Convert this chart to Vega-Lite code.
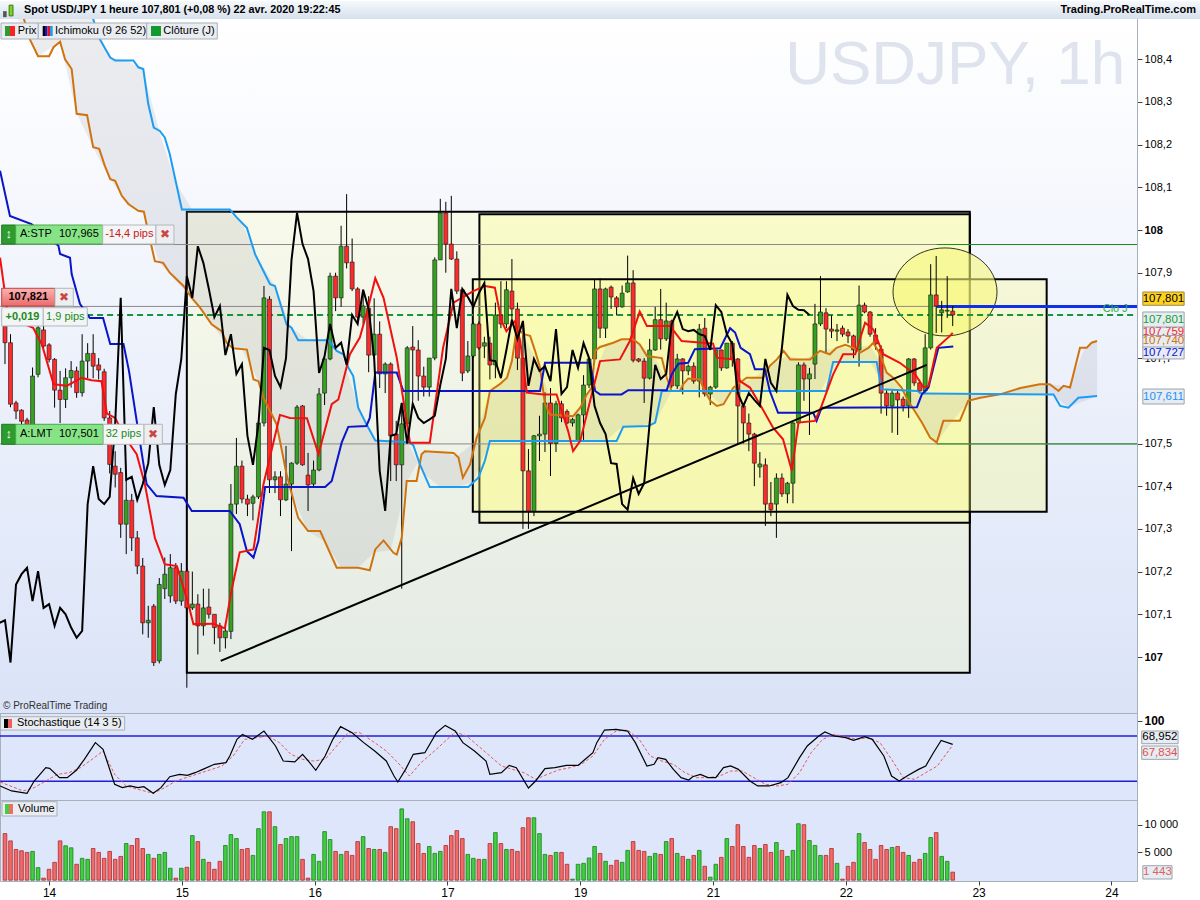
{
"$schema": "https://vega.github.io/schema/vega-lite/v6.json",
"padding": {"left": -3, "top": 0, "right": 0, "bottom": 0},
"background": "#ffffff",
"spacing": 0,
"bounds": "flush",
"config": {"font": "Liberation Sans", "view": {"stroke": "#a8b0bc"}},
"datasets": {
"candles": [
{"k":0,"o":107.775,"h":107.79,"l":107.686,"c":107.736,"v":8390},
{"k":1,"o":107.736,"h":107.756,"l":107.585,"c":107.592,"v":7080},
{"k":2,"o":107.595,"h":107.6,"l":107.557,"c":107.576,"v":5530},
{"k":3,"o":107.578,"h":107.58,"l":107.54,"c":107.552,"v":5300},
{"k":4,"o":107.555,"h":107.56,"l":107.51,"c":107.53,"v":5000},
{"k":5,"o":107.53,"h":107.678,"l":107.52,"c":107.658,"v":5180},
{"k":6,"o":107.662,"h":107.79,"l":107.655,"c":107.771,"v":2260},
{"k":7,"o":107.766,"h":107.78,"l":107.72,"c":107.728,"v":360},
{"k":8,"o":107.731,"h":107.735,"l":107.69,"c":107.697,"v":1960},
{"k":9,"o":107.697,"h":107.7,"l":107.584,"c":107.625,"v":3210},
{"k":10,"o":107.625,"h":107.67,"l":107.548,"c":107.603,"v":7080},
{"k":11,"o":107.603,"h":107.676,"l":107.583,"c":107.654,"v":6190},
{"k":12,"o":107.654,"h":107.693,"l":107.631,"c":107.671,"v":5830},
{"k":13,"o":107.67,"h":107.68,"l":107.607,"c":107.619,"v":2860},
{"k":14,"o":107.619,"h":107.756,"l":107.61,"c":107.693,"v":3930},
{"k":15,"o":107.693,"h":107.735,"l":107.653,"c":107.711,"v":3750},
{"k":16,"o":107.711,"h":107.756,"l":107.653,"c":107.681,"v":5710},
{"k":17,"o":107.684,"h":107.7,"l":107.65,"c":107.672,"v":5000},
{"k":18,"o":107.668,"h":107.675,"l":107.553,"c":107.56,"v":3930},
{"k":19,"o":107.56,"h":107.576,"l":107.43,"c":107.451,"v":5180},
{"k":20,"o":107.447,"h":107.482,"l":107.397,"c":107.428,"v":3750},
{"k":21,"o":107.432,"h":107.443,"l":107.279,"c":107.311,"v":4280},
{"k":22,"o":107.311,"h":107.42,"l":107.241,"c":107.367,"v":6600},
{"k":23,"o":107.367,"h":107.382,"l":107.248,"c":107.279,"v":6250},
{"k":24,"o":107.279,"h":107.295,"l":107.194,"c":107.213,"v":7500},
{"k":25,"o":107.213,"h":107.232,"l":107.053,"c":107.08,"v":5710},
{"k":26,"o":107.08,"h":107.12,"l":107.045,"c":107.086,"v":4640},
{"k":27,"o":107.119,"h":107.124,"l":106.979,"c":106.987,"v":3930},
{"k":28,"o":106.991,"h":107.185,"l":106.985,"c":107.17,"v":4640},
{"k":29,"o":107.16,"h":107.233,"l":107.136,"c":107.194,"v":5000},
{"k":30,"o":107.143,"h":107.241,"l":107.127,"c":107.209,"v":2140},
{"k":31,"o":107.209,"h":107.22,"l":107.124,"c":107.131,"v":360},
{"k":32,"o":107.131,"h":107.22,"l":107.12,"c":107.201,"v":2140},
{"k":33,"o":107.201,"h":107.208,"l":106.928,"c":107.115,"v":2320},
{"k":34,"o":107.115,"h":107.2,"l":107.11,"c":107.124,"v":8030},
{"k":35,"o":107.124,"h":107.147,"l":107.006,"c":107.073,"v":6960},
{"k":36,"o":107.073,"h":107.16,"l":107.05,"c":107.115,"v":3750},
{"k":37,"o":107.117,"h":107.16,"l":107.09,"c":107.1,"v":3210},
{"k":38,"o":107.1,"h":107.1,"l":107.03,"c":107.069,"v":1960},
{"k":39,"o":107.073,"h":107.08,"l":107.012,"c":107.045,"v":3390},
{"k":40,"o":107.045,"h":107.08,"l":107.02,"c":107.061,"v":6250},
{"k":41,"o":107.06,"h":107.405,"l":107.042,"c":107.358,"v":8210},
{"k":42,"o":107.358,"h":107.513,"l":107.335,"c":107.447,"v":7500},
{"k":43,"o":107.447,"h":107.46,"l":107.36,"c":107.37,"v":5530},
{"k":44,"o":107.37,"h":107.38,"l":107.33,"c":107.358,"v":5710},
{"k":45,"o":107.36,"h":107.38,"l":107.32,"c":107.375,"v":4460},
{"k":46,"o":107.375,"h":107.55,"l":107.37,"c":107.548,"v":9280},
{"k":47,"o":107.548,"h":107.869,"l":107.54,"c":107.841,"v":12320},
{"k":48,"o":107.838,"h":107.845,"l":107.384,"c":107.415,"v":12320},
{"k":49,"o":107.415,"h":107.435,"l":107.384,"c":107.422,"v":9640},
{"k":50,"o":107.422,"h":107.435,"l":107.33,"c":107.368,"v":6430},
{"k":51,"o":107.368,"h":107.494,"l":107.365,"c":107.405,"v":7500},
{"k":52,"o":107.405,"h":107.456,"l":107.248,"c":107.454,"v":7850},
{"k":53,"o":107.454,"h":107.59,"l":107.45,"c":107.585,"v":7850},
{"k":54,"o":107.588,"h":107.59,"l":107.448,"c":107.45,"v":3750},
{"k":55,"o":107.426,"h":107.478,"l":107.342,"c":107.403,"v":360},
{"k":56,"o":107.405,"h":107.46,"l":107.4,"c":107.438,"v":4640},
{"k":57,"o":107.438,"h":107.63,"l":107.435,"c":107.616,"v":3390},
{"k":58,"o":107.618,"h":107.712,"l":107.59,"c":107.698,"v":8750},
{"k":59,"o":107.698,"h":107.9,"l":107.695,"c":107.892,"v":7320},
{"k":60,"o":107.892,"h":107.9,"l":107.81,"c":107.841,"v":5180},
{"k":61,"o":107.841,"h":108.01,"l":107.82,"c":107.962,"v":4640},
{"k":62,"o":107.962,"h":108.084,"l":107.91,"c":107.923,"v":5180},
{"k":63,"o":107.925,"h":107.98,"l":107.857,"c":107.862,"v":4460},
{"k":64,"o":107.862,"h":107.866,"l":107.78,"c":107.796,"v":6960},
{"k":65,"o":107.796,"h":107.86,"l":107.78,"c":107.822,"v":7850},
{"k":66,"o":107.817,"h":107.845,"l":107.667,"c":107.707,"v":5710},
{"k":67,"o":107.707,"h":107.84,"l":107.7,"c":107.756,"v":5530},
{"k":68,"o":107.756,"h":107.786,"l":107.63,"c":107.663,"v":5530},
{"k":69,"o":107.663,"h":107.69,"l":107.618,"c":107.686,"v":5000},
{"k":70,"o":107.686,"h":107.69,"l":107.412,"c":107.518,"v":9640},
{"k":71,"o":107.522,"h":107.553,"l":107.412,"c":107.45,"v":9280},
{"k":72,"o":107.45,"h":107.595,"l":107.16,"c":107.546,"v":12850},
{"k":73,"o":107.546,"h":107.728,"l":107.54,"c":107.724,"v":11070},
{"k":74,"o":107.726,"h":107.775,"l":107.6,"c":107.719,"v":10530},
{"k":75,"o":107.719,"h":107.742,"l":107.6,"c":107.658,"v":6600},
{"k":76,"o":107.658,"h":107.68,"l":107.61,"c":107.632,"v":4820},
{"k":77,"o":107.632,"h":107.7,"l":107.61,"c":107.7,"v":6070},
{"k":78,"o":107.7,"h":107.936,"l":107.695,"c":107.93,"v":4820},
{"k":79,"o":107.93,"h":108.073,"l":107.93,"c":108.04,"v":5180},
{"k":80,"o":108.04,"h":108.066,"l":107.9,"c":107.967,"v":6250},
{"k":81,"o":107.967,"h":108.08,"l":107.93,"c":107.932,"v":8030},
{"k":82,"o":107.932,"h":107.95,"l":107.85,"c":107.857,"v":8930},
{"k":83,"o":107.86,"h":107.86,"l":107.646,"c":107.665,"v":7500},
{"k":84,"o":107.67,"h":107.74,"l":107.665,"c":107.705,"v":4640},
{"k":85,"o":107.705,"h":107.784,"l":107.7,"c":107.78,"v":3930},
{"k":86,"o":107.78,"h":107.786,"l":107.72,"c":107.724,"v":3750},
{"k":87,"o":107.728,"h":107.75,"l":107.7,"c":107.736,"v":3750},
{"k":88,"o":107.735,"h":107.75,"l":107.65,"c":107.684,"v":6600},
{"k":89,"o":107.684,"h":107.83,"l":107.653,"c":107.801,"v":8570},
{"k":90,"o":107.8,"h":107.88,"l":107.77,"c":107.78,"v":6600},
{"k":91,"o":107.78,"h":107.88,"l":107.77,"c":107.86,"v":5530},
{"k":92,"o":107.857,"h":107.932,"l":107.787,"c":107.815,"v":5530},
{"k":93,"o":107.815,"h":107.83,"l":107.672,"c":107.7,"v":5180},
{"k":94,"o":107.7,"h":107.787,"l":107.3,"c":107.436,"v":9460},
{"k":95,"o":107.436,"h":107.487,"l":107.3,"c":107.342,"v":11250},
{"k":96,"o":107.342,"h":107.52,"l":107.33,"c":107.518,"v":11250},
{"k":97,"o":107.518,"h":107.565,"l":107.459,"c":107.522,"v":8390},
{"k":98,"o":107.522,"h":107.62,"l":107.48,"c":107.595,"v":4640},
{"k":99,"o":107.595,"h":107.63,"l":107.424,"c":107.5,"v":4460},
{"k":100,"o":107.5,"h":107.6,"l":107.48,"c":107.593,"v":5000},
{"k":101,"o":107.593,"h":107.6,"l":107.55,"c":107.56,"v":5000},
{"k":102,"o":107.575,"h":107.58,"l":107.545,"c":107.548,"v":2860},
{"k":103,"o":107.548,"h":107.56,"l":107.54,"c":107.556,"v":180},
{"k":104,"o":107.506,"h":107.57,"l":107.505,"c":107.567,"v":2860},
{"k":105,"o":107.567,"h":107.66,"l":107.506,"c":107.637,"v":3030},
{"k":106,"o":107.637,"h":107.7,"l":107.63,"c":107.698,"v":4000},
{"k":107,"o":107.698,"h":107.885,"l":107.69,"c":107.862,"v":6070},
{"k":108,"o":107.862,"h":107.887,"l":107.747,"c":107.77,"v":4820},
{"k":109,"o":107.77,"h":107.865,"l":107.747,"c":107.862,"v":3390},
{"k":110,"o":107.866,"h":107.87,"l":107.815,"c":107.843,"v":2680},
{"k":111,"o":107.841,"h":107.845,"l":107.8,"c":107.82,"v":3570},
{"k":112,"o":107.82,"h":107.87,"l":107.818,"c":107.852,"v":3210},
{"k":113,"o":107.855,"h":107.94,"l":107.853,"c":107.876,"v":5360},
{"k":114,"o":107.876,"h":107.906,"l":107.69,"c":107.695,"v":6960},
{"k":115,"o":107.698,"h":107.7,"l":107.69,"c":107.693,"v":5360},
{"k":116,"o":107.693,"h":107.7,"l":107.595,"c":107.653,"v":5180},
{"k":117,"o":107.653,"h":107.745,"l":107.65,"c":107.719,"v":4280},
{"k":118,"o":107.719,"h":107.82,"l":107.717,"c":107.79,"v":4820},
{"k":119,"o":107.79,"h":107.862,"l":107.72,"c":107.745,"v":4640},
{"k":120,"o":107.745,"h":107.83,"l":107.74,"c":107.787,"v":6960},
{"k":121,"o":107.787,"h":107.79,"l":107.63,"c":107.635,"v":7500},
{"k":122,"o":107.635,"h":107.71,"l":107.628,"c":107.698,"v":4820},
{"k":123,"o":107.698,"h":107.7,"l":107.615,"c":107.67,"v":4280},
{"k":124,"o":107.67,"h":107.685,"l":107.66,"c":107.681,"v":3750},
{"k":125,"o":107.681,"h":107.69,"l":107.64,"c":107.646,"v":4460},
{"k":126,"o":107.646,"h":107.78,"l":107.608,"c":107.768,"v":5360},
{"k":127,"o":107.77,"h":107.794,"l":107.61,"c":107.616,"v":2500},
{"k":128,"o":107.616,"h":107.635,"l":107.59,"c":107.632,"v":540},
{"k":129,"o":107.632,"h":107.72,"l":107.628,"c":107.719,"v":2860},
{"k":130,"o":107.719,"h":107.72,"l":107.67,"c":107.677,"v":4110},
{"k":131,"o":107.677,"h":107.735,"l":107.675,"c":107.735,"v":7500},
{"k":132,"o":107.735,"h":107.74,"l":107.68,"c":107.7,"v":6070},
{"k":133,"o":107.698,"h":107.7,"l":107.5,"c":107.588,"v":10000},
{"k":134,"o":107.588,"h":107.595,"l":107.5,"c":107.548,"v":6070},
{"k":135,"o":107.548,"h":107.57,"l":107.482,"c":107.522,"v":4110},
{"k":136,"o":107.522,"h":107.525,"l":107.4,"c":107.454,"v":6250},
{"k":137,"o":107.445,"h":107.48,"l":107.42,"c":107.452,"v":5710},
{"k":138,"o":107.45,"h":107.465,"l":107.307,"c":107.358,"v":6430},
{"k":139,"o":107.36,"h":107.41,"l":107.33,"c":107.345,"v":5000},
{"k":140,"o":107.358,"h":107.43,"l":107.279,"c":107.419,"v":6780},
{"k":141,"o":107.419,"h":107.43,"l":107.375,"c":107.382,"v":5360},
{"k":142,"o":107.382,"h":107.41,"l":107.36,"c":107.407,"v":4280},
{"k":143,"o":107.407,"h":107.55,"l":107.36,"c":107.548,"v":5360},
{"k":144,"o":107.548,"h":107.69,"l":107.545,"c":107.684,"v":10170},
{"k":145,"o":107.684,"h":107.69,"l":107.6,"c":107.651,"v":10000},
{"k":146,"o":107.651,"h":107.677,"l":107.52,"c":107.663,"v":7140},
{"k":147,"o":107.686,"h":107.827,"l":107.651,"c":107.78,"v":6250},
{"k":148,"o":107.78,"h":107.892,"l":107.775,"c":107.808,"v":4460},
{"k":149,"o":107.806,"h":107.817,"l":107.71,"c":107.768,"v":4460},
{"k":150,"o":107.768,"h":107.8,"l":107.747,"c":107.763,"v":5710},
{"k":151,"o":107.763,"h":107.78,"l":107.74,"c":107.766,"v":3030},
{"k":152,"o":107.77,"h":107.776,"l":107.75,"c":107.756,"v":180},
{"k":153,"o":107.761,"h":107.768,"l":107.735,"c":107.752,"v":2500},
{"k":154,"o":107.752,"h":107.755,"l":107.7,"c":107.719,"v":3210},
{"k":155,"o":107.719,"h":107.87,"l":107.68,"c":107.824,"v":8390},
{"k":156,"o":107.824,"h":107.83,"l":107.805,"c":107.808,"v":6780},
{"k":157,"o":107.808,"h":107.81,"l":107.75,"c":107.756,"v":5530},
{"k":158,"o":107.754,"h":107.77,"l":107.72,"c":107.733,"v":3750},
{"k":159,"o":107.721,"h":107.73,"l":107.57,"c":107.618,"v":6250},
{"k":160,"o":107.618,"h":107.625,"l":107.565,"c":107.588,"v":5530},
{"k":161,"o":107.588,"h":107.625,"l":107.525,"c":107.618,"v":5890},
{"k":162,"o":107.618,"h":107.625,"l":107.52,"c":107.602,"v":6070},
{"k":163,"o":107.604,"h":107.61,"l":107.575,"c":107.588,"v":5000},
{"k":164,"o":107.588,"h":107.7,"l":107.56,"c":107.698,"v":4460},
{"k":165,"o":107.698,"h":107.7,"l":107.635,"c":107.642,"v":3210},
{"k":166,"o":107.642,"h":107.65,"l":107.617,"c":107.623,"v":3750},
{"k":167,"o":107.623,"h":107.756,"l":107.617,"c":107.724,"v":4820},
{"k":168,"o":107.724,"h":107.92,"l":107.72,"c":107.848,"v":7680},
{"k":169,"o":107.848,"h":107.939,"l":107.759,"c":107.822,"v":8570},
{"k":170,"o":107.806,"h":107.834,"l":107.76,"c":107.813,"v":4280},
{"k":171,"o":107.81,"h":107.892,"l":107.794,"c":107.812,"v":3390},
{"k":172,"o":107.81,"h":107.822,"l":107.775,"c":107.801,"v":1443}
],
"chikou": [
{"k":-1,"p":107.08},{"k":0,"p":107.086},{"k":1,"p":106.987},{"k":2,"p":107.17},{"k":3,"p":107.194},{"k":4,"p":107.209},{"k":5,"p":107.131},{"k":6,"p":107.201},{"k":7,"p":107.115},{"k":8,"p":107.124},{"k":9,"p":107.073},{"k":10,"p":107.115},{"k":11,"p":107.1},{"k":12,"p":107.069},{"k":13,"p":107.045},{"k":14,"p":107.061},{"k":15,"p":107.358},{"k":16,"p":107.447},{"k":17,"p":107.37},{"k":18,"p":107.358},{"k":19,"p":107.375},{"k":20,"p":107.548},{"k":21,"p":107.841},{"k":22,"p":107.415},{"k":23,"p":107.422},{"k":24,"p":107.368},{"k":25,"p":107.405},{"k":26,"p":107.454},{"k":27,"p":107.585},{"k":28,"p":107.45},{"k":29,"p":107.403},{"k":30,"p":107.438},{"k":31,"p":107.616},{"k":32,"p":107.698},{"k":33,"p":107.892},{"k":34,"p":107.841},{"k":35,"p":107.962},{"k":36,"p":107.923},{"k":37,"p":107.862},{"k":38,"p":107.796},{"k":39,"p":107.822},{"k":40,"p":107.707},{"k":41,"p":107.756},{"k":42,"p":107.663},{"k":43,"p":107.686},{"k":44,"p":107.518},{"k":45,"p":107.45},{"k":46,"p":107.546},{"k":47,"p":107.724},{"k":48,"p":107.719},{"k":49,"p":107.658},{"k":50,"p":107.632},{"k":51,"p":107.7},{"k":52,"p":107.93},{"k":53,"p":108.04},{"k":54,"p":107.967},{"k":55,"p":107.932},{"k":56,"p":107.857},{"k":57,"p":107.665},{"k":58,"p":107.705},{"k":59,"p":107.78},{"k":60,"p":107.724},{"k":61,"p":107.736},{"k":62,"p":107.684},{"k":63,"p":107.801},{"k":64,"p":107.78},{"k":65,"p":107.86},{"k":66,"p":107.815},{"k":67,"p":107.7},{"k":68,"p":107.436},{"k":69,"p":107.342},{"k":70,"p":107.518},{"k":71,"p":107.522},{"k":72,"p":107.595},{"k":73,"p":107.5},{"k":74,"p":107.593},{"k":75,"p":107.56},{"k":76,"p":107.548},{"k":77,"p":107.556},{"k":78,"p":107.565},{"k":79,"p":107.637},{"k":80,"p":107.698},{"k":81,"p":107.862},{"k":82,"p":107.77},{"k":83,"p":107.862},{"k":84,"p":107.843},{"k":85,"p":107.82},{"k":86,"p":107.852},{"k":87,"p":107.876},{"k":88,"p":107.695},{"k":89,"p":107.693},{"k":90,"p":107.653},{"k":91,"p":107.719},{"k":92,"p":107.79},{"k":93,"p":107.745},{"k":94,"p":107.787},{"k":95,"p":107.635},{"k":96,"p":107.698},{"k":97,"p":107.67},{"k":98,"p":107.681},{"k":99,"p":107.646},{"k":100,"p":107.768},{"k":101,"p":107.616},{"k":102,"p":107.632},{"k":103,"p":107.719},{"k":104,"p":107.677},{"k":105,"p":107.735},{"k":106,"p":107.7},{"k":107,"p":107.588},{"k":108,"p":107.548},{"k":109,"p":107.522},{"k":110,"p":107.454},{"k":111,"p":107.452},{"k":112,"p":107.358},{"k":113,"p":107.345},{"k":114,"p":107.419},{"k":115,"p":107.382},{"k":116,"p":107.407},{"k":117,"p":107.548},{"k":118,"p":107.684},{"k":119,"p":107.651},{"k":120,"p":107.663},{"k":121,"p":107.78},{"k":122,"p":107.808},{"k":123,"p":107.768},{"k":124,"p":107.763},{"k":125,"p":107.766},{"k":126,"p":107.756},{"k":127,"p":107.752},{"k":128,"p":107.719},{"k":129,"p":107.824},{"k":130,"p":107.808},{"k":131,"p":107.756},{"k":132,"p":107.733},{"k":133,"p":107.618},{"k":134,"p":107.588},{"k":135,"p":107.618},{"k":136,"p":107.602},{"k":137,"p":107.588},{"k":138,"p":107.698},{"k":139,"p":107.642},{"k":140,"p":107.623},{"k":141,"p":107.724},{"k":142,"p":107.848},{"k":143,"p":107.822},{"k":144,"p":107.813},{"k":145,"p":107.812},{"k":146,"p":107.801}
],
"tenkan": [
{"k":-0.9,"p":107.935},{"k":0.6,"p":107.795},{"k":5.1,"p":107.771},{"k":6.7,"p":107.732},{"k":8.8,"p":107.639},{"k":11.2,"p":107.635},{"k":13.9,"p":107.654},{"k":15.7,"p":107.648},{"k":17.5,"p":107.646},{"k":18.5,"p":107.57},{"k":20,"p":107.56},{"k":21.8,"p":107.514},{"k":23.9,"p":107.475},{"k":25.4,"p":107.404},{"k":27.2,"p":107.279},{"k":29,"p":107.217},{"k":31.2,"p":107.213},{"k":33.3,"p":107.123},{"k":34.2,"p":107.077},{"k":37.8,"p":107.078},{"k":39.9,"p":107.067},{"k":41.1,"p":107.155},{"k":42.6,"p":107.245},{"k":45.1,"p":107.252},{"k":46.9,"p":107.404},{"k":49.9,"p":107.567},{"k":51.7,"p":107.56},{"k":54.8,"p":107.559},{"k":56.9,"p":107.475},{"k":59.3,"p":107.592},{"k":60.5,"p":107.603},{"k":62.6,"p":107.709},{"k":64.4,"p":107.748},{"k":65.9,"p":107.818},{"k":67.2,"p":107.887},{"k":68.7,"p":107.841},{"k":71.1,"p":107.701},{"k":73.5,"p":107.502},{"k":77.1,"p":107.502},{"k":79.5,"p":107.724},{"k":81.4,"p":107.83},{"k":85,"p":107.857},{"k":87.1,"p":107.869},{"k":88.9,"p":107.865},{"k":90.1,"p":107.787},{"k":91,"p":107.763},{"k":92.6,"p":107.787},{"k":93.5,"p":107.74},{"k":94.7,"p":107.619},{"k":97.7,"p":107.615},{"k":100.1,"p":107.615},{"k":102.2,"p":107.529},{"k":103.1,"p":107.482},{"k":104.4,"p":107.506},{"k":106.2,"p":107.6},{"k":108,"p":107.693},{"k":111.6,"p":107.697},{"k":113.4,"p":107.74},{"k":115.2,"p":107.809},{"k":116.5,"p":107.775},{"k":120.7,"p":107.775},{"k":122.8,"p":107.74},{"k":128.5,"p":107.734},{"k":129.2,"p":107.701},{"k":132.2,"p":107.697},{"k":133.4,"p":107.646},{"k":135.2,"p":107.631},{"k":137,"p":107.592},{"k":139.4,"p":107.537},{"k":141.2,"p":107.51},{"k":142.8,"p":107.436},{"k":144,"p":107.549},{"k":147,"p":107.553},{"k":148.2,"p":107.588},{"k":150.3,"p":107.662},{"k":152.1,"p":107.709},{"k":154.3,"p":107.709},{"k":156.1,"p":107.783},{"k":157.6,"p":107.767},{"k":159.4,"p":107.709},{"k":162.4,"p":107.689},{"k":165.2,"p":107.662},{"k":166.7,"p":107.631},{"k":167.6,"p":107.635},{"k":169.1,"p":107.724},{"k":171.5,"p":107.752},{"k":172,"p":107.759}
],
"kijun": [
{"k":-0.9,"p":108.139},{"k":0.9,"p":108.033},{"k":4.8,"p":108.014},{"k":9.7,"p":107.963},{"k":10,"p":107.944},{"k":11.8,"p":107.935},{"k":12.1,"p":107.897},{"k":13.6,"p":107.827},{"k":15.4,"p":107.794},{"k":17.8,"p":107.794},{"k":19.1,"p":107.733},{"k":21.5,"p":107.733},{"k":22.5,"p":107.67},{"k":23.9,"p":107.553},{"k":25.7,"p":107.405},{"k":27.5,"p":107.377},{"k":32.4,"p":107.373},{"k":33.9,"p":107.342},{"k":40.8,"p":107.342},{"k":42.6,"p":107.311},{"k":43.9,"p":107.248},{"k":45.1,"p":107.233},{"k":46,"p":107.272},{"k":47.2,"p":107.398},{"k":58.1,"p":107.398},{"k":59.3,"p":107.412},{"k":61.1,"p":107.502},{"k":62.3,"p":107.539},{"k":65.6,"p":107.541},{"k":66.2,"p":107.56},{"k":67.2,"p":107.666},{"k":71.1,"p":107.666},{"k":72.3,"p":107.623},{"k":97.1,"p":107.623},{"k":98,"p":107.689},{"k":106.2,"p":107.689},{"k":107.1,"p":107.623},{"k":108,"p":107.615},{"k":111.9,"p":107.615},{"k":113.1,"p":107.625},{"k":120.1,"p":107.625},{"k":121,"p":107.662},{"k":122.2,"p":107.687},{"k":124,"p":107.689},{"k":125.2,"p":107.721},{"k":129.8,"p":107.723},{"k":131.6,"p":107.77},{"k":132.5,"p":107.76},{"k":133.5,"p":107.724},{"k":135.2,"p":107.709},{"k":136.1,"p":107.674},{"k":137.9,"p":107.674},{"k":138.8,"p":107.623},{"k":140.3,"p":107.572},{"k":146.7,"p":107.572},{"k":147.3,"p":107.553},{"k":148.2,"p":107.584},{"k":165.5,"p":107.585},{"k":166.4,"p":107.615},{"k":167.6,"p":107.631},{"k":168.5,"p":107.678},{"k":169.4,"p":107.724},{"k":172.1,"p":107.727}
],
"spanA": [
{"k":1.5,"p":108.58},{"k":4.5,"p":108.447},{"k":6,"p":108.407},{"k":8,"p":108.407},{"k":8.8,"p":108.428},{"k":10,"p":108.441},{"k":10.9,"p":108.4},{"k":12.1,"p":108.377},{"k":13,"p":108.272},{"k":14.9,"p":108.269},{"k":16,"p":108.194},{"k":17.1,"p":108.19},{"k":18.1,"p":108.151},{"k":19.1,"p":108.119},{"k":20,"p":108.115},{"k":21.2,"p":108.08},{"k":22.4,"p":108.061},{"k":24.2,"p":108.045},{"k":25.2,"p":108.043},{"k":25.7,"p":108.013},{"k":27.2,"p":107.927},{"k":28.7,"p":107.923},{"k":29.9,"p":107.9},{"k":32.4,"p":107.869},{"k":33.9,"p":107.841},{"k":35.4,"p":107.818},{"k":37.5,"p":107.779},{"k":39.3,"p":107.763},{"k":40.2,"p":107.736},{"k":41.4,"p":107.723},{"k":43.9,"p":107.72},{"k":45.1,"p":107.65},{"k":46,"p":107.646},{"k":46.9,"p":107.607},{"k":49.3,"p":107.545},{"k":51.1,"p":107.428},{"k":53.2,"p":107.326},{"k":55,"p":107.295},{"k":57.2,"p":107.295},{"k":60.2,"p":107.209},{"k":64.1,"p":107.209},{"k":66.2,"p":107.203},{"k":67.2,"p":107.252},{"k":68.7,"p":107.273},{"k":70.5,"p":107.244},{"k":71.1,"p":107.24},{"k":72,"p":107.279},{"k":72.9,"p":107.412},{"k":74.7,"p":107.412},{"k":75.6,"p":107.475},{"k":76.2,"p":107.482},{"k":81.4,"p":107.478},{"k":82.3,"p":107.467},{"k":83.1,"p":107.42},{"k":84.4,"p":107.451},{"k":85.6,"p":107.514},{"k":87.1,"p":107.56},{"k":88,"p":107.623},{"k":89.8,"p":107.639},{"k":91.1,"p":107.654},{"k":92,"p":107.693},{"k":92.9,"p":107.771},{"k":94.1,"p":107.756},{"k":95.3,"p":107.752},{"k":96.2,"p":107.717},{"k":97.1,"p":107.678},{"k":98,"p":107.592},{"k":98.9,"p":107.568},{"k":103.1,"p":107.564},{"k":104.4,"p":107.584},{"k":105.6,"p":107.615},{"k":106.5,"p":107.631},{"k":107.1,"p":107.717},{"k":108,"p":107.726},{"k":110.4,"p":107.736},{"k":111.9,"p":107.744},{"k":114,"p":107.744},{"k":115.2,"p":107.732},{"k":116.5,"p":107.705},{"k":119.2,"p":107.7},{"k":120.1,"p":107.654},{"k":121,"p":107.623},{"k":122.5,"p":107.623},{"k":123.1,"p":107.639},{"k":124,"p":107.652},{"k":126.1,"p":107.65},{"k":126.7,"p":107.631},{"k":128,"p":107.6},{"k":129.2,"p":107.588},{"k":130.4,"p":107.592},{"k":132.2,"p":107.631},{"k":134.6,"p":107.654},{"k":137.6,"p":107.654},{"k":138.8,"p":107.682},{"k":140.1,"p":107.697},{"k":141.3,"p":107.717},{"k":142.5,"p":107.697},{"k":146.1,"p":107.697},{"k":147.9,"p":107.717},{"k":149.7,"p":107.709},{"k":150.9,"p":107.724},{"k":152.5,"p":107.731},{"k":154,"p":107.724},{"k":155.2,"p":107.713},{"k":156.7,"p":107.724},{"k":157.6,"p":107.736},{"k":158.8,"p":107.709},{"k":160,"p":107.666},{"k":161.2,"p":107.654},{"k":162.7,"p":107.631},{"k":163.9,"p":107.6},{"k":165.1,"p":107.576},{"k":166.4,"p":107.549},{"k":167.9,"p":107.514},{"k":169.1,"p":107.502},{"k":170.3,"p":107.553},{"k":173.3,"p":107.553},{"k":174.8,"p":107.6},{"k":177,"p":107.607},{"k":180.6,"p":107.615},{"k":184.3,"p":107.63},{"k":187.8,"p":107.639},{"k":189.6,"p":107.639},{"k":191.2,"p":107.623},{"k":192.1,"p":107.635},{"k":193.3,"p":107.631},{"k":195.1,"p":107.724},{"k":196.3,"p":107.724},{"k":197.2,"p":107.736},{"k":198.2,"p":107.74}
],
"spanB": [
{"k":14.5,"p":108.6},{"k":16,"p":108.494},{"k":17.2,"p":108.447},{"k":19.1,"p":108.404},{"k":20,"p":108.397},{"k":23.3,"p":108.397},{"k":24.2,"p":108.381},{"k":25.1,"p":108.377},{"k":26,"p":108.295},{"k":27,"p":108.24},{"k":28.1,"p":108.232},{"k":29,"p":108.217},{"k":29.9,"p":108.178},{"k":30.9,"p":108.119},{"k":32.1,"p":108.048},{"k":40.8,"p":108.048},{"k":42,"p":108.03},{"k":43.9,"p":108.005},{"k":45.4,"p":107.943},{"k":46.9,"p":107.904},{"k":48.1,"p":107.873},{"k":49,"p":107.869},{"k":51.1,"p":107.779},{"k":52,"p":107.771},{"k":53.2,"p":107.742},{"k":58.7,"p":107.742},{"k":60.2,"p":107.717},{"k":61.4,"p":107.709},{"k":62.3,"p":107.678},{"k":63.2,"p":107.658},{"k":64.1,"p":107.584},{"k":65.6,"p":107.545},{"k":67.2,"p":107.507},{"k":73.2,"p":107.503},{"k":74.1,"p":107.496},{"k":75.3,"p":107.451},{"k":77.1,"p":107.398},{"k":84.1,"p":107.398},{"k":85.9,"p":107.42},{"k":87.1,"p":107.46},{"k":88,"p":107.506},{"k":111,"p":107.506},{"k":112.2,"p":107.539},{"k":116.8,"p":107.541},{"k":118,"p":107.549},{"k":119.2,"p":107.623},{"k":149.1,"p":107.623},{"k":150.3,"p":107.691},{"k":158.2,"p":107.691},{"k":159.1,"p":107.627},{"k":165.5,"p":107.623},{"k":166.4,"p":107.617},{"k":190.3,"p":107.615},{"k":191.5,"p":107.588},{"k":193,"p":107.584},{"k":194.8,"p":107.607},{"k":198.2,"p":107.611}
],
"cloud": [
{"k":-1,"a":108.56,"b":108.75},{"k":3,"a":108.48,"b":108.7},{"k":6,"a":108.407,"b":108.65},{"k":10,"a":108.441,"b":108.6},{"k":13,"a":108.272,"b":108.56},{"k":16,"a":108.194,"b":108.494},{"k":19,"a":108.12,"b":108.405},{"k":22,"a":108.067,"b":108.397},{"k":25,"a":108.043,"b":108.377},{"k":28,"a":107.924,"b":108.232},{"k":31,"a":107.88,"b":108.11},{"k":34,"a":107.84,"b":108.048},{"k":37,"a":107.788,"b":108.048},{"k":40,"a":107.736,"b":108.048},{"k":43,"a":107.72,"b":108.016},{"k":46,"a":107.646,"b":107.93},{"k":49,"a":107.545,"b":107.869},{"k":52,"a":107.38,"b":107.771},{"k":55,"a":107.295,"b":107.742},{"k":58,"a":107.27,"b":107.742},{"k":61,"a":107.209,"b":107.712},{"k":64,"a":107.209,"b":107.59},{"k":67,"a":107.245,"b":107.508},{"k":70,"a":107.25,"b":107.504},{"k":73,"a":107.412,"b":107.503},{"k":76,"a":107.48,"b":107.43},{"k":79,"a":107.48,"b":107.398},{"k":82,"a":107.47,"b":107.398},{"k":85,"a":107.5,"b":107.41},{"k":88,"a":107.623,"b":107.506},{"k":91,"a":107.652,"b":107.506},{"k":94,"a":107.757,"b":107.506},{"k":97,"a":107.68,"b":107.506},{"k":100,"a":107.566,"b":107.506},{"k":103,"a":107.564,"b":107.506},{"k":106,"a":107.62,"b":107.506},{"k":109,"a":107.73,"b":107.506},{"k":112,"a":107.744,"b":107.54},{"k":115,"a":107.734,"b":107.541},{"k":118,"a":107.7,"b":107.549},{"k":121,"a":107.623,"b":107.623},{"k":124,"a":107.652,"b":107.623},{"k":127,"a":107.625,"b":107.623},{"k":130,"a":107.59,"b":107.623},{"k":133,"a":107.64,"b":107.623},{"k":136,"a":107.654,"b":107.623},{"k":139,"a":107.685,"b":107.623},{"k":142,"a":107.705,"b":107.623},{"k":145,"a":107.697,"b":107.623},{"k":148,"a":107.717,"b":107.623},{"k":151,"a":107.724,"b":107.691},{"k":154,"a":107.724,"b":107.691},{"k":157,"a":107.73,"b":107.691},{"k":160,"a":107.666,"b":107.625},{"k":163,"a":107.62,"b":107.623},{"k":166,"a":107.555,"b":107.617},{"k":169,"a":107.502,"b":107.615},{"k":172,"a":107.553,"b":107.615},{"k":175,"a":107.6,"b":107.615},{"k":178,"a":107.61,"b":107.615},{"k":181,"a":107.616,"b":107.615},{"k":184,"a":107.63,"b":107.615},{"k":187,"a":107.637,"b":107.615},{"k":190,"a":107.639,"b":107.615},{"k":193,"a":107.632,"b":107.585},{"k":196,"a":107.724,"b":107.6},{"k":198.2,"a":107.74,"b":107.611}
],
"stk": [
{"k":-0.9,"p":13.8},{"k":1.2,"p":7.2},{"k":4,"p":4.1},{"k":5.3,"p":20.4},{"k":7.4,"p":38.1},{"k":8.1,"p":37.2},{"k":9.9,"p":24.8},{"k":11.3,"p":24.8},{"k":13,"p":35},{"k":14.4,"p":49.1},{"k":16.4,"p":71.2},{"k":17.8,"p":62.3},{"k":19.9,"p":16},{"k":21.3,"p":11.6},{"k":22.7,"p":13.8},{"k":24.1,"p":11.6},{"k":25.2,"p":12.9},{"k":26.9,"p":4.1},{"k":28.3,"p":11.6},{"k":29.9,"p":26.1},{"k":31.7,"p":29.2},{"k":33.1,"p":27.9},{"k":34.5,"p":31.4},{"k":35.9,"p":35.8},{"k":38,"p":42.5},{"k":40.1,"p":44.7},{"k":40.8,"p":53.5},{"k":42.1,"p":75.6},{"k":43.1,"p":82.2},{"k":44.9,"p":75.6},{"k":47,"p":86.6},{"k":49.1,"p":66.8},{"k":50.5,"p":46.9},{"k":52.6,"p":45.6},{"k":54,"p":55.7},{"k":55.3,"p":44.7},{"k":56.4,"p":34.5},{"k":58.1,"p":53.5},{"k":59.5,"p":75.6},{"k":60.9,"p":92.4},{"k":63,"p":84.4},{"k":65.1,"p":71.2},{"k":67.1,"p":60.1},{"k":69.2,"p":46.9},{"k":70.6,"p":27},{"k":71.3,"p":19.1},{"k":72.7,"p":35.8},{"k":74.1,"p":55.7},{"k":76.2,"p":57.9},{"k":78.3,"p":84.4},{"k":79.9,"p":94.1},{"k":81.7,"p":86.6},{"k":83.1,"p":71.2},{"k":85.2,"p":60.1},{"k":87.3,"p":46.9},{"k":88,"p":29.2},{"k":90.1,"p":31.4},{"k":91.5,"p":41.1},{"k":92.8,"p":38.1},{"k":95,"p":11.1},{"k":96.3,"p":20.4},{"k":98,"p":36.7},{"k":99.8,"p":38.1},{"k":101.9,"p":41.1},{"k":104,"p":41.1},{"k":105.3,"p":49.1},{"k":106.7,"p":57.9},{"k":107.4,"p":71.2},{"k":108.8,"p":87.9},{"k":110.9,"p":88.8},{"k":113,"p":86.6},{"k":114.4,"p":71.2},{"k":116.5,"p":40.3},{"k":117.8,"p":42.5},{"k":118.5,"p":51.3},{"k":119.9,"p":49.1},{"k":121.3,"p":35.8},{"k":122.7,"p":24.8},{"k":124.1,"p":21.7},{"k":124.8,"p":26.1},{"k":126.2,"p":29.2},{"k":127.6,"p":24.8},{"k":129,"p":24.8},{"k":130.4,"p":38.1},{"k":131.7,"p":40.3},{"k":133.1,"p":35.8},{"k":135.2,"p":20.4},{"k":136.6,"p":13.8},{"k":138.7,"p":13.8},{"k":140.8,"p":18.2},{"k":142.1,"p":24.8},{"k":144.2,"p":51.3},{"k":145.6,"p":66.8},{"k":147.7,"p":80},{"k":148.8,"p":85.3},{"k":150.5,"p":80},{"k":152.6,"p":77.8},{"k":154,"p":74.3},{"k":156,"p":79.1},{"k":157.4,"p":75.6},{"k":159.5,"p":53.5},{"k":160.9,"p":27},{"k":162.3,"p":20.4},{"k":163.7,"p":27},{"k":165.8,"p":35.8},{"k":167.1,"p":40.3},{"k":168.5,"p":57.9},{"k":169.9,"p":74},{"k":172,"p":68.95}
],
"std": [
{"k":-0.9,"p":19.1},{"k":3.3,"p":7.2},{"k":5.3,"p":11.6},{"k":7.4,"p":20.4},{"k":9.5,"p":29.2},{"k":11.6,"p":31.4},{"k":13.7,"p":38.1},{"k":15.8,"p":49.1},{"k":17.8,"p":60.1},{"k":19.9,"p":29.2},{"k":22,"p":13.8},{"k":24.1,"p":9.4},{"k":26.9,"p":4.1},{"k":29,"p":11.6},{"k":31,"p":20.4},{"k":33.8,"p":27},{"k":36.6,"p":33.6},{"k":39.4,"p":40.3},{"k":41.4,"p":53.5},{"k":43.5,"p":75.6},{"k":45.6,"p":77.8},{"k":47.7,"p":80},{"k":49.8,"p":71.2},{"k":51.9,"p":55.7},{"k":54,"p":49.1},{"k":56,"p":46.9},{"k":58.1,"p":49.1},{"k":60.2,"p":66.8},{"k":62.3,"p":84.4},{"k":64.4,"p":84.4},{"k":67.1,"p":71.2},{"k":69.2,"p":60.1},{"k":71.3,"p":44.7},{"k":73.4,"p":27},{"k":75.5,"p":44.7},{"k":77.6,"p":57.9},{"k":79.6,"p":71.2},{"k":81.7,"p":85.3},{"k":83.8,"p":80},{"k":85.9,"p":66.8},{"k":88,"p":53.5},{"k":90.1,"p":40.3},{"k":92.1,"p":35.8},{"k":94.2,"p":31.4},{"k":96.3,"p":22.6},{"k":98.4,"p":29.2},{"k":100.5,"p":35},{"k":102.6,"p":38.1},{"k":104.6,"p":42.5},{"k":106.7,"p":53.5},{"k":108.8,"p":75.6},{"k":110.9,"p":86.6},{"k":113,"p":87.9},{"k":115.1,"p":75.6},{"k":117.1,"p":53.5},{"k":119.2,"p":46.9},{"k":121.3,"p":42.5},{"k":123.4,"p":31.4},{"k":125.5,"p":24.8},{"k":127.6,"p":24.8},{"k":129.7,"p":27},{"k":131.7,"p":33.6},{"k":133.8,"p":33.6},{"k":135.9,"p":24.8},{"k":138,"p":16},{"k":140.1,"p":13.8},{"k":142.1,"p":16},{"k":144.2,"p":31.4},{"k":146.3,"p":57.9},{"k":148.4,"p":75.6},{"k":150.5,"p":82.2},{"k":152.6,"p":79.1},{"k":154.6,"p":75.6},{"k":156.7,"p":77.8},{"k":158.8,"p":71.2},{"k":160.9,"p":49.1},{"k":163,"p":24.8},{"k":165.1,"p":22.6},{"k":167.1,"p":31.4},{"k":169.2,"p":40.3},{"k":172,"p":67.83}
]
},
"vconcat": [
{
"width": 1137, "height": 694,
"data": {"values": [{}]},
"view": {"stroke": "#a8b0bc"},
"encoding": {
  "x": {"type": "quantitative", "scale": {"domain": [-0.9074, 205.445], "nice": false, "zero": false, "padding": 0}, "axis": null},
  "y": {"type": "quantitative", "scale": {"domain": [106.86886, 108.49415], "nice": false, "zero": false, "padding": 0},
    "axis": {"orient": "right", "title": null, "grid": false,
      "values": [107, 107.1, 107.2, 107.3, 107.4, 107.5, 107.7, 107.9, 108, 108.1, 108.2, 108.3, 108.4],
      "labelExpr": "abs(datum.value - round(datum.value)) < 0.001 ? format(datum.value, 'd') : replace(format(datum.value, '.1f'), '.', ',')",
      "labelFontWeight": {"condition": {"test": "abs(datum.value - round(datum.value)) < 0.001", "value": "bold"}, "value": "normal"},
      "labelFontSize": 11, "labelColor": "#000000", "tickSize": 5, "tickColor": "#404040", "domainColor": "#a8b0bc", "labelPadding": 2}}
},
"layer": [
  {"mark": {"type": "rect", "fill": {"gradient": "linear", "x1": 0, "y1": 0, "x2": 0, "y2": 1, "stops": [{"offset": 0, "color": "#ffffff"}, {"offset": 1, "color": "#dae3f7"}]}},
   "encoding": {"x": {"datum": -0.9074}, "x2": {"datum": 205.445}, "y": {"datum": 108.49415}, "y2": {"datum": 106.86886}}},
  {"mark": {"type": "text", "text": "USDJPY, 1h", "align": "right", "baseline": "alphabetic", "fontSize": 62, "color": "#dfe3ee"},
   "encoding": {"x": {"datum": 203.3}, "y": {"datum": 108.342}}},
  {"mark": {"type": "rect", "fill": "#ffffb0", "fillOpacity": 0.25, "stroke": "#000000", "strokeWidth": 2},
   "encoding": {"x": {"datum": 33.0}, "x2": {"datum": 175.1}, "y": {"datum": 108.0427}, "y2": {"datum": 106.963}}},
  {"mark": {"type": "rect", "fill": "#ffff80", "fillOpacity": 0.3, "stroke": "#000000", "strokeWidth": 2},
   "encoding": {"x": {"datum": 86.1}, "x2": {"datum": 175.1}, "y": {"datum": 108.037}, "y2": {"datum": 107.3145}}},
  {"mark": {"type": "rect", "fill": "#ffff80", "fillOpacity": 0.3, "stroke": "#000000", "strokeWidth": 2},
   "encoding": {"x": {"datum": 84.9}, "x2": {"datum": 189.05}, "y": {"datum": 107.8845}, "y2": {"datum": 107.34}}},
  {"data": {"name": "cloud"}, "mark": {"type": "area", "color": "#8f8f9a", "opacity": 0.16, "clip": true},
   "encoding": {"x": {"field": "k", "type": "quantitative"}, "y": {"field": "a", "type": "quantitative"}, "y2": {"field": "b"}}},
  {"mark": {"type": "point", "shape": "M-1,0A1,0.846,0,1,0,1,0A1,0.846,0,1,0,-1,0Z", "size": 10816, "filled": true, "fill": "#f6f67a", "fillOpacity": 0.6, "stroke": "#000000", "strokeWidth": 0.8, "opacity": 1},
   "encoding": {"x": {"datum": 170.6}, "y": {"datum": 107.855}}},
  {"data": {"values": [{"p": 107.966}, {"p": 107.821}, {"p": 107.499}]},
   "mark": {"type": "rule", "color": "#8a8a8a", "strokeWidth": 1},
   "encoding": {"x": {"datum": -0.9074}, "x2": {"datum": 205.445}, "y": {"field": "p", "type": "quantitative"}}},
  {"data": {"values": [{"p": 107.966}, {"p": 107.499}]},
   "mark": {"type": "rule", "color": "#1e8c1e", "strokeWidth": 1},
   "encoding": {"x": {"datum": 169.1}, "x2": {"datum": 205.445}, "y": {"field": "p", "type": "quantitative"}}},
  {"mark": {"type": "rule", "color": "#16963a", "strokeWidth": 2, "strokeDash": [6, 4]},
   "encoding": {"x": {"datum": 14.9}, "x2": {"datum": 205.445}, "y": {"datum": 107.801}}},
  {"mark": {"type": "rule", "color": "#1030e6", "strokeWidth": 3},
   "encoding": {"x": {"datum": 169.1}, "x2": {"datum": 205.445}, "y": {"datum": 107.821}}},
  {"mark": {"type": "text", "text": "Clo J", "align": "center", "baseline": "middle", "fontSize": 11, "color": "#30b040"},
   "encoding": {"x": {"datum": 201.5}, "y": {"datum": 107.814}}},
  {"data": {"name": "candles"}, "mark": {"type": "rule", "color": "#000000", "strokeWidth": 1},
   "encoding": {"x": {"field": "k", "type": "quantitative"}, "y": {"field": "l", "type": "quantitative"}, "y2": {"field": "h"}}},
  {"data": {"name": "candles"}, "mark": {"type": "bar", "size": 4, "orient": "vertical", "stroke": "#151515", "strokeWidth": 0.6},
   "encoding": {"x": {"field": "k", "type": "quantitative"}, "y": {"field": "o", "type": "quantitative"}, "y2": {"field": "c"},
     "fill": {"condition": {"test": "datum.c >= datum.o", "value": "#36a020"}, "value": "#ff2a2a"}}},
  {"data": {"name": "spanA"}, "mark": {"type": "line", "color": "#d0730f", "strokeWidth": 2, "clip": true},
   "encoding": {"x": {"field": "k", "type": "quantitative"}, "y": {"field": "p", "type": "quantitative"}}},
  {"data": {"name": "spanB"}, "mark": {"type": "line", "color": "#1e9cf2", "strokeWidth": 2, "clip": true},
   "encoding": {"x": {"field": "k", "type": "quantitative"}, "y": {"field": "p", "type": "quantitative"}}},
  {"data": {"name": "kijun"}, "mark": {"type": "line", "color": "#0a14c8", "strokeWidth": 2, "clip": true},
   "encoding": {"x": {"field": "k", "type": "quantitative"}, "y": {"field": "p", "type": "quantitative"}}},
  {"data": {"name": "tenkan"}, "mark": {"type": "line", "color": "#f01010", "strokeWidth": 2, "clip": true},
   "encoding": {"x": {"field": "k", "type": "quantitative"}, "y": {"field": "p", "type": "quantitative"}}},
  {"data": {"name": "chikou"}, "mark": {"type": "line", "color": "#000000", "strokeWidth": 2, "clip": true},
   "encoding": {"x": {"field": "k", "type": "quantitative"}, "y": {"field": "p", "type": "quantitative"}}},
  {"mark": {"type": "rule", "color": "#000000", "strokeWidth": 2},
   "encoding": {"x": {"datum": 39.15}, "x2": {"datum": 167.3}, "y": {"datum": 106.991}, "y2": {"datum": 107.684}}},

  {"mark": {"type": "rect", "fill": "#2c9c2c", "stroke": "#1f7a1f"}, "encoding": {"x": {"datum": -0.6}, "x2": {"datum": 1.94}, "y": {"datum": 108.0117}, "y2": {"datum": 107.9672}}},
  {"mark": {"type": "rect", "fill": "#86e486", "stroke": "#4aa84a"}, "encoding": {"x": {"datum": 1.94}, "x2": {"datum": 17.73}, "y": {"datum": 108.0117}, "y2": {"datum": 107.9672}}},
  {"mark": {"type": "rect", "fill": "#f4f5f6", "stroke": "#b4b8bc"}, "encoding": {"x": {"datum": 17.73}, "x2": {"datum": 27.4}, "y": {"datum": 108.0117}, "y2": {"datum": 107.9672}}},
  {"mark": {"type": "rect", "fill": "#eceef0", "stroke": "#b4b8bc"}, "encoding": {"x": {"datum": 27.4}, "x2": {"datum": 30.67}, "y": {"datum": 108.0117}, "y2": {"datum": 107.9672}}},
  {"mark": {"type": "text", "text": "↕", "align": "center", "baseline": "middle", "fontSize": 13, "fontWeight": "bold", "color": "#ffffff"}, "encoding": {"x": {"datum": 0.67}, "y": {"datum": 107.9895}}},
  {"mark": {"type": "text", "text": "A:STP", "align": "left", "baseline": "middle", "fontSize": 11, "color": "#000000"}, "encoding": {"x": {"datum": 2.72}, "y": {"datum": 107.9895}}},
  {"mark": {"type": "text", "text": "107,965", "align": "left", "baseline": "middle", "fontSize": 11, "color": "#000000"}, "encoding": {"x": {"datum": 9.8}, "y": {"datum": 107.9895}}},
  {"mark": {"type": "text", "text": "-14,4 pips", "align": "center", "baseline": "middle", "fontSize": 11, "color": "#c41a1a"}, "encoding": {"x": {"datum": 22.56}, "y": {"datum": 107.9895}}},
  {"mark": {"type": "text", "text": "✖", "align": "center", "baseline": "middle", "fontSize": 12, "color": "#cc4444"}, "encoding": {"x": {"datum": 29.03}, "y": {"datum": 107.9895}}},

  {"mark": {"type": "rect", "fill": {"gradient": "linear", "x1": 0, "y1": 0, "x2": 0, "y2": 1, "stops": [{"offset": 0, "color": "#fbb4b4"}, {"offset": 1, "color": "#ec6a6a"}]}, "stroke": "#c04040"}, "encoding": {"x": {"datum": -0.6}, "x2": {"datum": 9.07}, "y": {"datum": 107.8635}, "y2": {"datum": 107.822}}},
  {"mark": {"type": "rect", "fill": "#eceef0", "stroke": "#b4b8bc"}, "encoding": {"x": {"datum": 9.07}, "x2": {"datum": 12.4}, "y": {"datum": 107.8635}, "y2": {"datum": 107.822}}},
  {"mark": {"type": "text", "text": "107,821", "align": "center", "baseline": "middle", "fontSize": 11, "fontWeight": "bold", "color": "#000000"}, "encoding": {"x": {"datum": 4.23}, "y": {"datum": 107.8426}}},
  {"mark": {"type": "text", "text": "✖", "align": "center", "baseline": "middle", "fontSize": 12, "color": "#cc4444"}, "encoding": {"x": {"datum": 10.74}, "y": {"datum": 107.8426}}},
  {"mark": {"type": "rect", "fill": "#f2f4f6", "stroke": "#b4b8bc"}, "encoding": {"x": {"datum": -0.6}, "x2": {"datum": 6.95}, "y": {"datum": 107.818}, "y2": {"datum": 107.7752}}},
  {"mark": {"type": "rect", "fill": "#f2f4f6", "stroke": "#b4b8bc"}, "encoding": {"x": {"datum": 6.95}, "x2": {"datum": 14.94}, "y": {"datum": 107.818}, "y2": {"datum": 107.7752}}},
  {"mark": {"type": "text", "text": "+0,019", "align": "center", "baseline": "middle", "fontSize": 11, "fontWeight": "bold", "color": "#1a8a1a"}, "encoding": {"x": {"datum": 3.17}, "y": {"datum": 107.7967}}},
  {"mark": {"type": "text", "text": "1,9 pips", "align": "center", "baseline": "middle", "fontSize": 11, "color": "#1a8a1a"}, "encoding": {"x": {"datum": 10.95}, "y": {"datum": 107.7967}}},

  {"mark": {"type": "rect", "fill": "#2c9c2c", "stroke": "#1f7a1f"}, "encoding": {"x": {"datum": -0.6}, "x2": {"datum": 1.94}, "y": {"datum": 107.545}, "y2": {"datum": 107.4981}}},
  {"mark": {"type": "rect", "fill": "#86e486", "stroke": "#4aa84a"}, "encoding": {"x": {"datum": 1.94}, "x2": {"datum": 17.84}, "y": {"datum": 107.545}, "y2": {"datum": 107.4981}}},
  {"mark": {"type": "rect", "fill": "#f4f5f6", "stroke": "#b4b8bc"}, "encoding": {"x": {"datum": 17.84}, "x2": {"datum": 25.23}, "y": {"datum": 107.545}, "y2": {"datum": 107.4981}}},
  {"mark": {"type": "rect", "fill": "#eceef0", "stroke": "#b4b8bc"}, "encoding": {"x": {"datum": 25.23}, "x2": {"datum": 28.55}, "y": {"datum": 107.545}, "y2": {"datum": 107.4981}}},
  {"mark": {"type": "text", "text": "↕", "align": "center", "baseline": "middle", "fontSize": 13, "fontWeight": "bold", "color": "#ffffff"}, "encoding": {"x": {"datum": 0.67}, "y": {"datum": 107.5215}}},
  {"mark": {"type": "text", "text": "A:LMT", "align": "left", "baseline": "middle", "fontSize": 11, "color": "#000000"}, "encoding": {"x": {"datum": 2.72}, "y": {"datum": 107.5215}}},
  {"mark": {"type": "text", "text": "107,501", "align": "left", "baseline": "middle", "fontSize": 11, "color": "#000000"}, "encoding": {"x": {"datum": 9.8}, "y": {"datum": 107.5215}}},
  {"mark": {"type": "text", "text": "32 pips", "align": "center", "baseline": "middle", "fontSize": 11, "color": "#1a8a1a"}, "encoding": {"x": {"datum": 21.5}, "y": {"datum": 107.5215}}},
  {"mark": {"type": "text", "text": "✖", "align": "center", "baseline": "middle", "fontSize": 12, "color": "#cc4444"}, "encoding": {"x": {"datum": 26.89}, "y": {"datum": 107.5215}}},

  {"mark": {"type": "rect", "fill": "#e9edf1", "stroke": "#a8b0b8"}, "encoding": {"x": {"datum": -0.726}, "x2": {"datum": 6.04}, "y": {"datum": 108.4848}, "y2": {"datum": 108.4473}}},
  {"mark": {"type": "rect", "fill": "#e9edf1", "stroke": "#a8b0b8"}, "encoding": {"x": {"datum": 6.04}, "x2": {"datum": 25.72}, "y": {"datum": 108.4848}, "y2": {"datum": 108.4473}}},
  {"mark": {"type": "rect", "fill": "#e9edf1", "stroke": "#a8b0b8"}, "encoding": {"x": {"datum": 25.72}, "x2": {"datum": 38.53}, "y": {"datum": 108.4848}, "y2": {"datum": 108.4473}}},
  {"mark": {"type": "rect", "fill": "#2f9a2f"}, "encoding": {"x": {"datum": 0}, "x2": {"datum": 0.907}, "y": {"datum": 108.4777}, "y2": {"datum": 108.4543}}},
  {"mark": {"type": "rect", "fill": "#ff2020"}, "encoding": {"x": {"datum": 0.907}, "x2": {"datum": 1.815}, "y": {"datum": 108.4777}, "y2": {"datum": 108.4543}}},
  {"mark": {"type": "rect", "fill": "#000000"}, "encoding": {"x": {"datum": 6.84}, "x2": {"datum": 7.26}, "y": {"datum": 108.4777}, "y2": {"datum": 108.4543}}},
  {"mark": {"type": "rect", "fill": "#1018c8"}, "encoding": {"x": {"datum": 7.26}, "x2": {"datum": 7.71}, "y": {"datum": 108.4777}, "y2": {"datum": 108.4543}}},
  {"mark": {"type": "rect", "fill": "#f01010"}, "encoding": {"x": {"datum": 7.71}, "x2": {"datum": 8.17}, "y": {"datum": 108.4777}, "y2": {"datum": 108.4543}}},
  {"mark": {"type": "rect", "fill": "#1e9cf2"}, "encoding": {"x": {"datum": 8.17}, "x2": {"datum": 8.66}, "y": {"datum": 108.4777}, "y2": {"datum": 108.4543}}},
  {"mark": {"type": "rect", "fill": "#109a30"}, "encoding": {"x": {"datum": 26.5}, "x2": {"datum": 28.31}, "y": {"datum": 108.4777}, "y2": {"datum": 108.4543}}},
  {"mark": {"type": "text", "text": "Prix", "align": "left", "baseline": "middle", "fontSize": 11, "color": "#000000"}, "encoding": {"x": {"datum": 2.3}, "y": {"datum": 108.466}}},
  {"mark": {"type": "text", "text": "Ichimoku (9 26 52)", "align": "left", "baseline": "middle", "fontSize": 11, "color": "#000000"}, "encoding": {"x": {"datum": 9.07}, "y": {"datum": 108.466}}},
  {"mark": {"type": "text", "text": "Clôture (J)", "align": "left", "baseline": "middle", "fontSize": 11, "color": "#000000"}, "encoding": {"x": {"datum": 28.73}, "y": {"datum": 108.466}}},

  {"mark": {"type": "rect", "fill": {"gradient": "linear", "x1": 0, "y1": 0, "x2": 0, "y2": 1, "stops": [{"offset": 0, "color": "#f6f9fc"}, {"offset": 1, "color": "#d6e0ec"}]}},
   "encoding": {"x": {"datum": -0.9074}, "x2": {"datum": 216.88}, "y": {"datum": 108.5363}, "y2": {"datum": 108.49415}}},
  {"mark": {"type": "text", "text": "Spot USD/JPY 1 heure 107,801 (+0,08 %) 22 avr. 2020 19:22:45", "align": "left", "baseline": "middle", "fontSize": 10.8, "fontWeight": "bold", "color": "#000000"},
   "encoding": {"x": {"datum": 3.45}, "y": {"datum": 108.5141}}},
  {"mark": {"type": "text", "text": "Trading.ProRealTime.com", "align": "right", "baseline": "middle", "fontSize": 11, "fontWeight": "bold", "color": "#000000"},
   "encoding": {"x": {"datum": 216.15}, "y": {"datum": 108.5141}}},
  {"mark": {"type": "rect", "fill": "#555555"}, "encoding": {"x": {"datum": -0.35}, "x2": {"datum": 0.3}, "y": {"datum": 108.5125}, "y2": {"datum": 108.4985}}},
  {"mark": {"type": "rect", "fill": "#7ed321", "stroke": "#3a7a10"}, "encoding": {"x": {"datum": 0.75}, "x2": {"datum": 1.45}, "y": {"datum": 108.5265}, "y2": {"datum": 108.5015}}},

  {"mark": {"type": "text", "text": "© ProRealTime Trading", "align": "left", "baseline": "middle", "fontSize": 10, "color": "#303030"},
   "encoding": {"x": {"datum": -0.36}, "y": {"datum": 106.8852}}},

  {"mark": {"type": "rect", "fill": "#e6ecf2", "stroke": "#9aa4ae"}, "encoding": {"x": {"datum": 206.5}, "x2": {"datum": 214}, "y": {"datum": 107.7740}, "y2": {"datum": 107.7482}}},
  {"mark": {"type": "text", "text": "107,759", "align": "center", "baseline": "middle", "fontSize": 11.5, "color": "#ff2020"}, "encoding": {"x": {"datum": 210.25}, "y": {"datum": 107.761}}},
  {"mark": {"type": "rect", "fill": "#e6ecf2", "stroke": "#9aa4ae"}, "encoding": {"x": {"datum": 206.5}, "x2": {"datum": 214}, "y": {"datum": 107.7529}, "y2": {"datum": 107.7248}}},
  {"mark": {"type": "text", "text": "107,740", "align": "center", "baseline": "middle", "fontSize": 11.5, "color": "#d07010"}, "encoding": {"x": {"datum": 210.25}, "y": {"datum": 107.739}}},
  {"mark": {"type": "rect", "fill": "#e6ecf2", "stroke": "#9aa4ae"}, "encoding": {"x": {"datum": 206.5}, "x2": {"datum": 214}, "y": {"datum": 107.726}, "y2": {"datum": 107.698}}},
  {"mark": {"type": "text", "text": "107,727", "align": "center", "baseline": "middle", "fontSize": 11.5, "color": "#1010d0"}, "encoding": {"x": {"datum": 210.25}, "y": {"datum": 107.712}}},
  {"mark": {"type": "rect", "fill": "#e6ecf2", "stroke": "#9aa4ae"}, "encoding": {"x": {"datum": 206.5}, "x2": {"datum": 214}, "y": {"datum": 107.808}, "y2": {"datum": 107.7728}}},
  {"mark": {"type": "text", "text": "107,801", "align": "center", "baseline": "middle", "fontSize": 11.5, "color": "#12a030"}, "encoding": {"x": {"datum": 210.25}, "y": {"datum": 107.790}}},
  {"mark": {"type": "rect", "fill": "#ffd21f", "stroke": "#9a8a50"}, "encoding": {"x": {"datum": 206.5}, "x2": {"datum": 214}, "y": {"datum": 107.8548}, "y2": {"datum": 107.8237}}},
  {"mark": {"type": "text", "text": "107,801", "align": "center", "baseline": "middle", "fontSize": 11.5, "color": "#000000"}, "encoding": {"x": {"datum": 210.25}, "y": {"datum": 107.8393}}},
  {"mark": {"type": "rect", "fill": "#e6ecf2", "stroke": "#9aa4ae"}, "encoding": {"x": {"datum": 206.5}, "x2": {"datum": 214}, "y": {"datum": 107.6276}, "y2": {"datum": 107.5925}}},
  {"mark": {"type": "text", "text": "107,611", "align": "center", "baseline": "middle", "fontSize": 11.5, "color": "#1e90ff"}, "encoding": {"x": {"datum": 210.25}, "y": {"datum": 107.610}}}
]
},
{
"width": 1137, "height": 87,
"data": {"values": [{}]},
"view": {"fill": "#dde6fa", "stroke": "#a8b0bc"},
"encoding": {
  "x": {"type": "quantitative", "scale": {"domain": [-0.9074, 205.445], "nice": false, "zero": false, "padding": 0}, "axis": null},
  "y": {"type": "quantitative", "scale": {"domain": [-4.8, 110.5], "nice": false, "zero": false, "padding": 0},
    "axis": {"orient": "right", "title": null, "grid": false, "values": [100], "labelExpr": "'100'", "labelFontWeight": "bold", "labelFontSize": 12, "labelColor": "#000000", "tickSize": 5, "tickColor": "#404040", "domainColor": "#a8b0bc", "labelPadding": 2}}
},
"layer": [
  {"data": {"values": [{"p": 80}, {"p": 20}]}, "mark": {"type": "rule", "color": "#1f1fd6", "strokeWidth": 1.5},
   "encoding": {"x": {"datum": -0.9074}, "x2": {"datum": 205.445}, "y": {"field": "p", "type": "quantitative"}}},
  {"data": {"name": "std"}, "mark": {"type": "line", "color": "#e85a5a", "strokeWidth": 1, "strokeDash": [3, 2]},
   "encoding": {"x": {"field": "k", "type": "quantitative"}, "y": {"field": "p", "type": "quantitative"}}},
  {"data": {"name": "stk"}, "mark": {"type": "line", "color": "#000000", "strokeWidth": 1.2},
   "encoding": {"x": {"field": "k", "type": "quantitative"}, "y": {"field": "p", "type": "quantitative"}}},
  {"mark": {"type": "rect", "fill": "#e9edf1", "stroke": "#a8b0b8"}, "encoding": {"x": {"datum": -0.816}, "x2": {"datum": 21.72}, "y": {"datum": 105.6}, "y2": {"datum": 87.97}}},
  {"mark": {"type": "rect", "fill": "#000000"}, "encoding": {"x": {"datum": -0.18}, "x2": {"datum": 0.544}, "y": {"datum": 102.55}, "y2": {"datum": 90.6}}},
  {"mark": {"type": "rect", "fill": "#f06060"}, "encoding": {"x": {"datum": 0.544}, "x2": {"datum": 1.27}, "y": {"datum": 102.55}, "y2": {"datum": 90.6}}},
  {"mark": {"type": "text", "text": "Stochastique (14 3 5)", "align": "left", "baseline": "middle", "fontSize": 11, "color": "#000000"}, "encoding": {"x": {"datum": 2.18}, "y": {"datum": 96.85}}},
  {"mark": {"type": "rect", "fill": "#e6ecf2", "stroke": "#9aa4ae"}, "encoding": {"x": {"datum": 206.3}, "x2": {"datum": 212.9}, "y": {"datum": 86.65}, "y2": {"datum": 69.8}}},
  {"mark": {"type": "text", "text": "68,952", "align": "center", "baseline": "middle", "fontSize": 11.5, "color": "#000000"}, "encoding": {"x": {"datum": 209.6}, "y": {"datum": 78.2}}},
  {"mark": {"type": "rect", "fill": "#e6ecf2", "stroke": "#9aa4ae"}, "encoding": {"x": {"datum": 206.3}, "x2": {"datum": 212.9}, "y": {"datum": 66.77}, "y2": {"datum": 49.1}}},
  {"mark": {"type": "text", "text": "67,834", "align": "center", "baseline": "middle", "fontSize": 11.5, "color": "#e05050"}, "encoding": {"x": {"datum": 209.6}, "y": {"datum": 57.9}}}
]
},
{
"width": 1137, "height": 81,
"data": {"values": [{}]},
"view": {"fill": "#dde6fa", "stroke": "#a8b0bc"},
"encoding": {
  "x": {"type": "quantitative", "scale": {"domain": [-0.9074, 205.445], "nice": false, "zero": false, "padding": 0},
    "axis": {"orient": "bottom", "title": null, "grid": false, "domain": false, "values": [8, 32.1, 56.2, 80.3, 104.4, 128.5, 152.6, 176.7, 200.8],
      "labelExpr": "['14','15','16','17','19','21','22','23','24'][round((datum.value - 8) / 24.1)]",
      "labelFontSize": 12, "labelColor": "#000000", "tickSize": 4, "tickColor": "#404040", "labelPadding": 2}},
  "y": {"type": "quantitative", "scale": {"domain": [-150, 14450], "nice": false, "zero": false, "padding": 0},
    "axis": {"orient": "right", "title": null, "grid": false, "values": [5000, 10000], "labelExpr": "replace(format(datum.value, ','), ',', ' ')",
      "labelFontSize": 11, "labelColor": "#000000", "tickSize": 5, "tickColor": "#404040", "domainColor": "#a8b0bc", "labelPadding": 2}}
},
"layer": [
  {"data": {"name": "candles"}, "mark": {"type": "bar", "size": 3.6, "orient": "vertical", "strokeWidth": 0.8},
   "encoding": {"x": {"field": "k", "type": "quantitative"}, "y": {"field": "v", "type": "quantitative"}, "y2": {"datum": 0},
     "fill": {"condition": {"test": "datum.c >= datum.o", "value": "#3fd03f"}, "value": "#f26b6b"},
     "stroke": {"condition": {"test": "datum.c >= datum.o", "value": "#1d7d1d"}, "value": "#b02a2a"}}},
  {"mark": {"type": "rect", "fill": "#e9edf1", "stroke": "#a8b0b8"}, "encoding": {"x": {"datum": -0.544}, "x2": {"datum": 9.44}, "y": {"datum": 14144}, "y2": {"datum": 11566}}},
  {"mark": {"type": "rect", "fill": "#3fd03f"}, "encoding": {"x": {"datum": 0}, "x2": {"datum": 0.726}, "y": {"datum": 13729}, "y2": {"datum": 11926}}},
  {"mark": {"type": "rect", "fill": "#f26b6b"}, "encoding": {"x": {"datum": 0.726}, "x2": {"datum": 1.45}, "y": {"datum": 13729}, "y2": {"datum": 11926}}},
  {"mark": {"type": "text", "text": "Volume", "align": "left", "baseline": "middle", "fontSize": 11, "color": "#000000"}, "encoding": {"x": {"datum": 2.36}, "y": {"datum": 12828}}},
  {"mark": {"type": "rect", "fill": "#e6ecf2", "stroke": "#9aa4ae"}, "encoding": {"x": {"datum": 206.5}, "x2": {"datum": 211.8}, "y": {"datum": 2608}, "y2": {"datum": 210}}},
  {"mark": {"type": "text", "text": "1 443", "align": "center", "baseline": "middle", "fontSize": 11.5, "color": "#e06060"}, "encoding": {"x": {"datum": 209.15}, "y": {"datum": 1410}}}
]
}
]
}
